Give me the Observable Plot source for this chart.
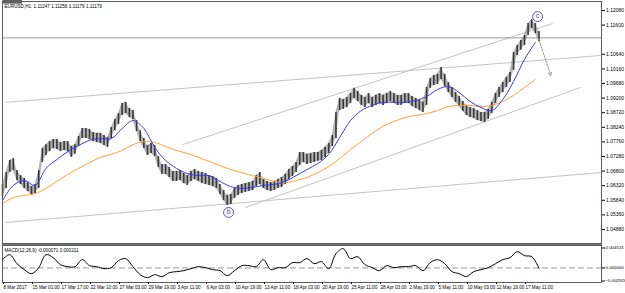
<!DOCTYPE html>
<html><head><meta charset="utf-8">
<script src="https://cdn.jsdelivr.net/npm/d3@7"></script>
<script src="https://cdn.jsdelivr.net/npm/@observablehq/plot@0.6"></script>
<style>
html,body{margin:0;padding:0;background:#fff;}
#chart{width:625px;height:293px;position:relative;overflow:hidden;background:#fff;}
.sep{height:2px;background:#777;margin-left:2px;width:600px;}
svg{display:block;}
</style></head><body><div id="chart"></div>
<script>
// ---------- data (EURUSD H1) ----------
const SAMPLE_STEP = 8;          // bars between price samples
const highs = [
1.0636,1.0675,1.0715,1.0721,1.0682,1.0665,1.0656,1.0642,1.0629,1.0636,
1.0682,1.0754,1.0767,1.0777,1.0784,1.0784,1.0774,1.0777,1.0777,1.0761,
1.0767,1.0794,1.0820,1.0820,1.0817,1.0807,1.0804,1.0804,1.0797,1.0790,
1.0823,1.0850,1.0869,1.0902,1.0906,1.0886,1.0879,1.0846,1.0813,1.0787,
1.0764,1.0771,1.0764,1.0728,1.0702,1.0702,1.0692,1.0679,1.0679,1.0682,
1.0672,1.0665,1.0679,1.0685,1.0679,1.0675,1.0672,1.0665,1.0662,1.0656,
1.0636,1.0616,1.0600,1.0603,1.0623,1.0633,1.0636,1.0639,1.0642,1.0646,
1.0665,1.0675,1.0652,1.0646,1.0642,1.0646,1.0652,1.0659,1.0669,1.0685,
1.0695,1.0708,1.0741,1.0741,1.0735,1.0738,1.0741,1.0741,1.0748,1.0758,
1.0771,1.0797,1.0873,1.0919,1.0915,1.0922,1.0935,1.0952,1.0942,1.0929,
1.0922,1.0935,1.0922,1.0929,1.0935,1.0929,1.0935,1.0942,1.0935,1.0929,
1.0929,1.0935,1.0935,1.0925,1.0919,1.0912,1.0906,1.0955,1.0984,1.0994,
1.0998,1.1021,1.0998,1.0971,1.0955,1.0938,1.0925,1.0909,1.0896,1.0889,
1.0886,1.0879,1.0873,1.0873,1.0883,1.0906,1.0935,1.0955,1.0971,1.0988,
1.1004,1.1070,1.1093,1.1109,1.1126,1.1165,1.1178,1.1165,1.1139];
const lows = [
1.0596,1.0623,1.0675,1.0682,1.0649,1.0636,1.0623,1.0613,1.0600,1.0606,
1.0623,1.0708,1.0731,1.0744,1.0754,1.0751,1.0744,1.0748,1.0744,1.0725,
1.0735,1.0761,1.0787,1.0787,1.0784,1.0777,1.0774,1.0771,1.0764,1.0758,
1.0787,1.0813,1.0833,1.0863,1.0869,1.0856,1.0850,1.0810,1.0777,1.0754,
1.0731,1.0738,1.0728,1.0692,1.0669,1.0669,1.0659,1.0646,1.0646,1.0649,
1.0639,1.0633,1.0646,1.0652,1.0646,1.0639,1.0636,1.0633,1.0629,1.0623,
1.0603,1.0583,1.0567,1.0570,1.0590,1.0600,1.0606,1.0610,1.0613,1.0616,
1.0629,1.0636,1.0623,1.0616,1.0613,1.0616,1.0623,1.0626,1.0636,1.0652,
1.0662,1.0675,1.0698,1.0708,1.0702,1.0705,1.0708,1.0712,1.0715,1.0725,
1.0738,1.0761,1.0787,1.0879,1.0883,1.0889,1.0902,1.0919,1.0909,1.0896,
1.0889,1.0902,1.0889,1.0896,1.0902,1.0896,1.0902,1.0909,1.0902,1.0896,
1.0896,1.0902,1.0902,1.0892,1.0886,1.0879,1.0873,1.0896,1.0952,1.0961,
1.0965,1.0981,1.0958,1.0938,1.0922,1.0906,1.0892,1.0876,1.0863,1.0856,
1.0853,1.0846,1.0843,1.0840,1.0850,1.0869,1.0902,1.0922,1.0938,1.0955,
1.0971,1.1011,1.1060,1.1077,1.1093,1.1126,1.1149,1.1132,1.1106];

const MA_STEP = 24;
const maFast = [
1.0583,1.0633,1.0649,1.0633,1.0689,1.0718,1.0744,1.0764,1.0781,1.0787,
1.0787,1.0820,1.0846,1.0820,1.0758,1.0715,1.0689,1.0672,1.0665,1.0665,
1.0646,1.0629,1.0623,1.0626,1.0633,1.0636,1.0646,1.0665,1.0685,1.0705,
1.0735,1.0790,1.0846,1.0879,1.0896,1.0906,1.0906,1.0906,1.0912,1.0925,
1.0948,1.0958,1.0938,1.0909,1.0889,1.0879,1.0915,1.0975,1.1047,1.1103];
const maSlow = [
1.0573,1.0593,1.0600,1.0606,1.0623,1.0646,1.0669,1.0689,1.0708,1.0725,
1.0735,1.0748,1.0767,1.0777,1.0774,1.0761,1.0748,1.0738,1.0725,1.0712,
1.0698,1.0685,1.0675,1.0665,1.0656,1.0646,1.0642,1.0649,1.0659,1.0675,
1.0695,1.0721,1.0751,1.0777,1.0804,1.0827,1.0843,1.0856,1.0863,1.0869,
1.0879,1.0892,1.0896,1.0896,1.0892,1.0896,1.0909,1.0929,1.0955,1.0981];

const MACD_STEP = 16;
const macd = [
0.00167,0.00267,0.00086,-0.00034,-0.00115,0.00006,0.00267,0.00207,0.00066,0.00026,
0.00026,0.00167,0.00046,0.00026,-0.00014,0.00006,0.00147,0.00187,0.00026,-0.00135,
-0.00195,-0.00135,-0.00175,-0.00095,-0.00074,-0.00054,-0.00014,0.00026,0.00006,-0.00034,
-0.00054,-0.00155,-0.00054,0.00046,0.00046,0.00026,0.00167,-0.00034,0.00006,0.00006,
0.00107,0.00107,0.00187,0.00086,0.00127,-0.00014,0.00288,0.00388,0.00187,0.00227,
0.00066,0.00006,-0.00054,0.00046,0.00006,0.00026,0.00026,0.00046,-0.00054,0.00107,
0.00167,0.00086,-0.00074,-0.00115,-0.00175,-0.00074,-0.00034,0.00006,0.00086,0.00167,
0.00207,0.00328,0.00247,0.00227,-0.00007];

// trend lines (bar index, price)
const lineBar1   = [7, 397, 536, 7];
const linePrice1 = [1.0906, 1.0767, 1.0560, 1.0511];
const lineBar2   = [1320, 1214, 1276, 1320];
const linePrice2 = [1.1060, 1.1165, 1.0955, 1.0675];

const arrowBars = [1183, 1210];
const arrowPrices = [1.1116, 1.0994];

const waveLabels = ["b", "c"];
const waveBars = [499, 1181];
const wavePrices = [1.0544, 1.1188];

const currentPrice = 1.11179;
const priceTicks = [1.12080,1.11600,1.10640,1.10160,1.09680,1.09200,1.08720,1.08240,1.07760,1.07280,1.06800,1.06320,1.05840,1.05360,1.04880];
const macdTicks = [0.004515, 0, -0.002926];

const DATE_STEP = 64;
const dateLabels = ["8 Mar 2017","15 Mar 01:00","17 Mar 17:00","22 Mar 10:00","27 Mar 03:00","29 Mar 19:00","3 Apr 11:00","6 Apr 03:00","10 Apr 19:00","13 Apr 11:00","18 Apr 03:00","20 Apr 19:00","25 Apr 11:00","28 Apr 03:00","2 May 19:00","5 May 11:00","10 May 03:00","12 May 19:00","17 May 11:00"];

const titleText = "EURUSD,H1  1.11247 1.11256 1.11179 1.11179";
const macdTitle = "MACD(12,26,9) -0.000071 0.000211";

// ---------- build tables ----------
const priceData = highs.map((h, i) => ({bar: i * SAMPLE_STEP, hi: h, lo: lows[i]}));
const maData = maFast.map((f, i) => ({bar: i * MA_STEP, fast: f, slow: maSlow[i]}));
const macdData = macd.map((v, i) => ({bar: i * MACD_STEP, v}));
const trend = lineBar1.map((b, i) => ({b1: b, p1: linePrice1[i], b2: lineBar2[i], p2: linePrice2[i]}));
const waves = waveLabels.map((t, i) => ({t, bar: waveBars[i], p: wavePrices[i]}));
const dateTicks = dateLabels.map((_, i) => i * DATE_STEP);

const FONT = "Liberation Sans, Arial, sans-serif";
const X_DOMAIN = [0, 1322];

const main = Plot.plot({
  width: 625, height: 243, marginTop: 1, marginBottom: 0, marginLeft: 2, marginRight: 24,
  style: {fontFamily: FONT, fontSize: "5px", background: "white", color: "#000", overflow: "visible"},
  x: {domain: X_DOMAIN, axis: null},
  y: {domain: [1.04419, 1.12376], axis: null},
  marks: [
    Plot.link(trend, {x1: "b1", y1: "p1", x2: "b2", y2: "p2", stroke: "#c4c4c4", strokeWidth: 1}),
    Plot.ruleY([currentPrice], {stroke: "#9a9a9a", strokeWidth: 1}),
    Plot.areaY(priceData, {x: "bar", y1: "lo", y2: "hi", fill: "#8c8c8c", fillOpacity: 0.65}),
    Plot.ruleX(priceData, {x: "bar", y1: "lo", y2: "hi", stroke: "#383838", strokeWidth: 1.6}),
    Plot.line(maData, {x: "bar", y: "slow", stroke: "#ffa033", strokeWidth: 1, curve: "catmull-rom"}),
    Plot.line(maData, {x: "bar", y: "fast", stroke: "#3a3af2", strokeWidth: 1, curve: "catmull-rom"}),
    Plot.arrow([0], {x1: () => arrowBars[0], y1: () => arrowPrices[0], x2: () => arrowBars[1], y2: () => arrowPrices[1],
      stroke: "#8c8c8c", strokeWidth: 1, strokeDasharray: "1.5,1.5", headLength: 5}),
    Plot.dot(waves, {x: "bar", y: "p", r: 5, stroke: "#4b40c4", strokeWidth: 0.9, fill: "white"}),
    Plot.text(waves, {x: "bar", y: "p", text: "t", fill: "#4b40c4", fontSize: 7, dy: -0.5}),
    Plot.frame({stroke: "#5a5a5a", strokeWidth: 1}),
    Plot.axisY({anchor: "right", ticks: priceTicks, tickFormat: d3.format(".5f"), tickSize: 3, tickPadding: 1.5, fontSize: 5, label: null}),
    Plot.text([currentPrice], {y: d => d, frameAnchor: "right", dx: 3, textAnchor: "start",
      text: d => d3.format(".5f")(d), fill: "white", fontSize: 5, className: "ptag"}),
    Plot.text([titleText], {frameAnchor: "top-left", dx: 2, dy: 3, text: d => d, fontSize: 4.6, textAnchor: "start", fill: "#000"})
  ]
});

const sub = Plot.plot({
  width: 625, height: 48, marginTop: 0, marginBottom: 11, marginLeft: 2, marginRight: 24,
  style: {fontFamily: FONT, fontSize: "5px", background: "white", color: "#000", overflow: "visible"},
  x: {domain: X_DOMAIN, axis: null},
  y: {domain: [-0.002926, 0.004515], axis: null},
  marks: [
    Plot.ruleY([0], {stroke: "#9a9a9a", strokeWidth: 1, strokeDasharray: "6,3"}),
    Plot.line(macdData, {x: "bar", y: "v", stroke: "#000", strokeWidth: 1, curve: "catmull-rom"}),
    Plot.frame({stroke: "#5a5a5a", strokeWidth: 1}),
    Plot.axisY({anchor: "right", ticks: [macdTicks[0]], tickFormat: d3.format(".6f"), tickSize: 3, tickPadding: 1, fontSize: 4.4, dy: 2.5, label: null}),
    Plot.axisY({anchor: "right", ticks: [macdTicks[1]], tickFormat: d3.format(".6f"), tickSize: 3, tickPadding: 1, fontSize: 4.4, label: null}),
    Plot.axisY({anchor: "right", ticks: [macdTicks[2]], tickFormat: d3.format(".6f"), tickSize: 3, tickPadding: 1, fontSize: 4.4, dy: -1.5, label: null}),
    Plot.axisX({anchor: "bottom", ticks: dateTicks, tickFormat: d => dateLabels[dateTicks.indexOf(d)],
      textAnchor: "start", tickSize: 2, tickPadding: 1, dx: 1, fontSize: 4.6, label: null}),
    Plot.text([macdTitle], {frameAnchor: "top-left", dx: 2, dy: 3, text: d => d, fontSize: 4.6, textAnchor: "start", fill: "#000"})
  ]
});

const root = document.getElementById("chart");
root.appendChild(main);
const sep = document.createElement("div"); sep.className = "sep"; root.appendChild(sep);
root.appendChild(sub);

// background box for the current-price tag
document.querySelectorAll(".ptag text").forEach(t => {
  const b = t.getBBox();
  const r = document.createElementNS("http://www.w3.org/2000/svg", "rect");
  r.setAttribute("x", b.x - 1); r.setAttribute("y", b.y - 0.5);
  r.setAttribute("width", b.width + 2); r.setAttribute("height", b.height + 1);
  r.setAttribute("fill", "#5e5e5e");
  t.parentNode.insertBefore(r, t);
});
</script></body></html>
